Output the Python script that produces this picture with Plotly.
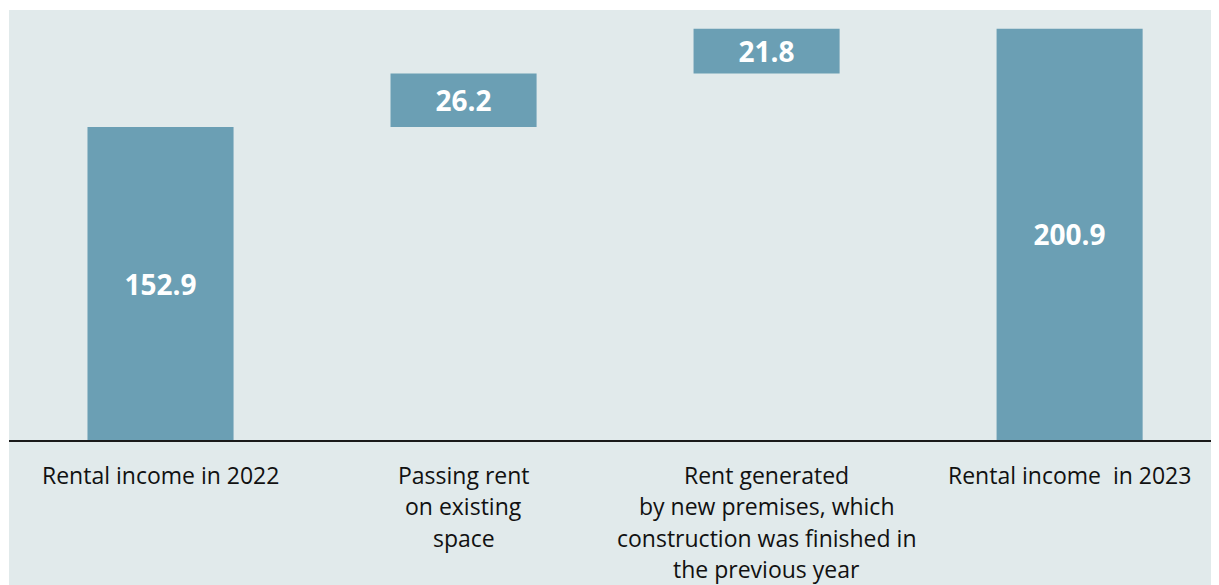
import plotly.graph_objects as go

categories = ["Rental income in 2022", "Passing rent on existing space",
              "Rent generated by new premises", "Rental income in 2023"]
label_lines = [
    ["Rental income in 2022"],
    ["Passing rent", "on existing", "space"],
    ["Rent generated", "by new premises, which", "construction was finished in", "the previous year"],
    ["Rental income  in 2023"],
]
values = [152.9, 26.2, 21.8, 200.9]
measures = ["absolute", "relative", "relative", "total"]
value_labels = ["152.9", "26.2", "21.8", "200.9"]

BAR = "#6b9fb4"
BG = "#e1eaeb"

fig = go.Figure(go.Waterfall(
    x=categories,
    y=values,
    measure=measures,
    text=value_labels,
    textposition="inside",
    insidetextanchor="middle",
    textfont=dict(family="Open Sans", size=28, color="white", weight="bold"),
    increasing=dict(marker=dict(color=BAR)),
    decreasing=dict(marker=dict(color=BAR)),
    totals=dict(marker=dict(color=BAR)),
    connector=dict(visible=False),
    width=0.482,
    hoverinfo="skip",
))

annotations = []
for cat, lines in zip(categories, label_lines):
    for j, line in enumerate(lines):
        annotations.append(dict(
            x=cat, y=0, xref="x", yref="y",
            text=line, showarrow=False,
            xanchor="center", yanchor="middle",
            yshift=-(35 + 31.3 * j),
            font=dict(family="Open Sans", size=23, color="#111111"),
        ))

fig.update_layout(
    width=1211, height=577,
    margin=dict(l=1, r=0, t=2, b=145),
    paper_bgcolor="white",
    plot_bgcolor=BG,
    showlegend=False,
    annotations=annotations,
    shapes=[dict(type="rect", xref="paper", yref="paper",
                 x0=0, x1=1.01, y0=-0.4, y1=1,
                 fillcolor=BG, line=dict(width=0), layer="below")],
    xaxis=dict(type="category", range=[-0.5, 3.493], showticklabels=False,
               showline=True, linecolor="#1a1a1a", linewidth=2,
               showgrid=False, zeroline=False, ticks=""),
    yaxis=dict(range=[0, 210.1], visible=False, showgrid=False, zeroline=False),
)

fig.write_html("out.html")
